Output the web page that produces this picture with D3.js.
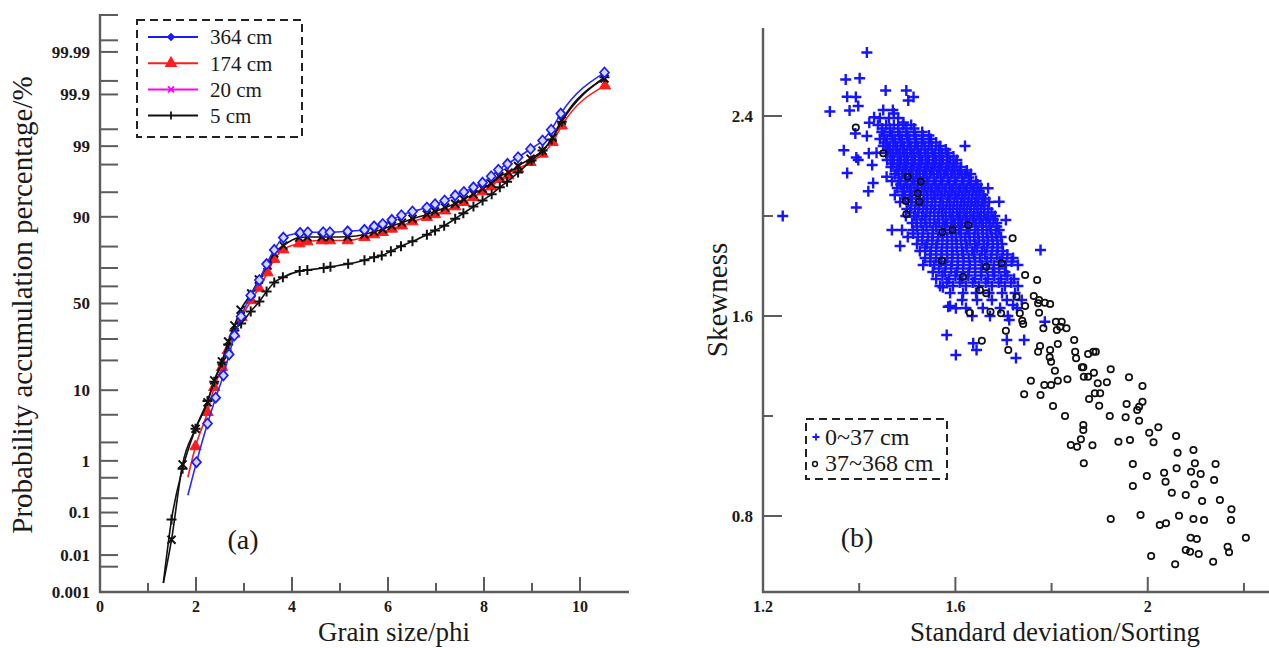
<!DOCTYPE html>
<html><head><meta charset="utf-8">
<script src="https://cdn.jsdelivr.net/npm/d3@7"></script>
<style>
body{margin:0;background:#fff;}
svg{display:block;}
text{font-family:"Liberation Serif","Times New Roman",serif;fill:#1a1a1a;}
</style></head><body>
<svg id="c" width="1269" height="648"></svg>
<script>
// ---------- (a) cumulative probability curves ----------
const phi364 = [1.83,2.01,2.24,2.41,2.57,2.69,2.80,2.94,3.14,3.32,3.47,3.63,3.82,4.17,4.33,4.65,4.79,5.16,5.51,5.71,5.89,6.08,6.28,6.51,6.81,6.98,7.18,7.40,7.58,7.78,7.97,8.15,8.30,8.49,8.71,8.97,9.22,9.40,9.60,10.51];
const pct364 = [0.23,0.95,3.8,8.2,14.4,22.6,31.8,42.4,54.7,63.6,72.0,78.6,83.5,85.2,85.4,85.4,85.4,85.7,86.2,87.3,88.0,89.2,90.4,91.3,92.2,92.9,93.6,94.5,95.05,95.7,96.3,97.0,97.6,98.05,98.47,98.88,99.20,99.49,99.75,99.968];
const phi174 = [1.83,1.99,2.24,2.38,2.54,2.66,2.80,2.95,3.15,3.31,3.49,3.63,3.82,4.15,4.32,4.62,4.79,5.16,5.51,5.71,5.89,6.08,6.29,6.51,6.81,6.98,7.19,7.40,7.58,7.78,7.97,8.15,8.32,8.51,8.71,8.97,9.22,9.43,9.62,10.52];
const pct174 = [0.51,1.73,5.4,10.8,17.3,24.4,32.7,42.0,51.8,59.1,67.6,74.4,78.7,81.2,82.0,82.4,82.4,82.4,83.6,84.6,85.4,86.5,87.5,88.7,89.9,90.6,91.5,92.4,93.27,94.2,95.1,95.8,96.7,97.07,97.67,98.16,98.65,99.14,99.57,99.936];
const phi20 = [1.32,1.49,1.72,1.99,2.24,2.38,2.54,2.67,2.80,2.93,3.15,3.31,3.49,3.63,3.82,4.15,4.32,4.62,4.79,5.16,5.51,5.71,5.89,6.08,6.29,6.51,6.81,6.98,7.19,7.40,7.58,7.78,7.97,8.15,8.32,8.51,8.71,8.97,9.22,9.43,9.62,10.51];
const pct20 = [0.0018,0.024,0.87,3.2,7.2,12.8,19.6,28.7,37.3,46.3,55.9,63.9,71.3,77.0,80.4,83.5,83.7,83.7,83.7,83.8,84.6,85.6,86.4,87.45,88.4,89.5,90.6,91.3,92.2,93.0,93.8,94.7,95.5,96.2,97.0,97.35,97.9,98.39,98.81,99.29,99.66,99.956];
const phi5 = [1.32,1.49,1.72,1.99,2.24,2.38,2.54,2.67,2.80,2.94,3.14,3.32,3.47,3.63,3.81,4.16,4.32,4.66,4.80,5.17,5.51,5.71,5.87,6.06,6.27,6.51,6.81,6.98,7.17,7.40,7.57,7.78,7.97,8.16,8.33,8.48,8.71,8.99,9.22,9.41,9.62,10.51];
const pct5 = [0.0018,0.070,0.73,3.2,7.5,12.4,19.2,27.2,34.5,38.4,45.3,51.2,57.0,62.2,65.1,68.4,69.0,70.0,70.6,72.1,73.9,75.3,76.1,78.0,80.1,82.1,84.5,86.0,87.5,89.5,90.9,92.4,93.6,94.7,95.7,96.4,97.35,98.27,98.81,99.23,99.64,99.959];
const seriesNames = ["364 cm","174 cm","20 cm","5 cm"];
const yTickPcts = [0.001,0.005,0.01,0.05,0.1,0.2,0.5,1,2,5,10,20,30,40,50,60,70,80,90,95,98,99,99.5,99.9,99.95,99.99,99.995,99.999];
const yLabelPcts = ["0.001","0.01","0.1","1","10","50","90","99","99.9","99.99"];
const xTicksA = [0,1,2,3,4,5,6,7,8,9,10];
const xLabelsA = [0,2,4,6,8,10];

// ---------- (b) scatter ----------
const xTicksB = [1.2,1.4,1.6,1.8,2.0,2.2];
const xLabelsB = [[1.2,"1.2"],[1.6,"1.6"],[2.0,"2"]];
const yTicksB = [0.8,1.2,1.6,2.0,2.4];
const yLabelsB = [[0.8,"0.8"],[1.6,"1.6"],[2.4,"2.4"]];
const shallowOutliers = [[1.416,2.654],[1.372,2.546],[1.401,2.551],[1.375,2.477],[1.393,2.476],[1.339,2.418],[1.380,2.422],[1.398,2.440],[1.455,2.502],[1.498,2.502],[1.502,2.462],[1.513,2.476],[1.472,2.410],[1.492,2.374],[1.421,2.373],[1.431,2.395],[1.392,2.330],[1.416,2.320],[1.368,2.263],[1.394,2.234],[1.398,2.224],[1.420,2.251],[1.436,2.253],[1.427,2.204],[1.375,2.172],[1.429,2.132],[1.419,2.099],[1.394,2.034],[1.457,2.157],[1.241,2.000],[1.620,2.280],[1.691,2.057],[1.668,2.111],[1.777,1.864],[1.705,1.984],[1.485,1.880],[1.582,1.524],[1.601,1.444],[1.637,1.491],[1.644,1.464],[1.707,1.504],[1.743,1.504],[1.712,1.584],[1.786,1.577],[1.601,1.631],[1.585,1.637],[1.726,1.432],[1.720,1.644],[1.574,1.715],[1.589,1.640]];
const shallowRows = [
 [2.424,[1.450,1.470]],
 [2.392,[1.443,1.462,1.481]],
 [2.364,[1.439,1.456,1.472,1.491,1.508]],
 [2.336,[1.447,1.464,1.481,1.497,1.514,1.531]],
 [2.308,[1.443,1.458,1.474,1.489,1.504,1.518,1.533,1.549]],
 [2.280,[1.450,1.464,1.479,1.493,1.508,1.522,1.537,1.551,1.568]],
 [2.252,[1.456,1.470,1.485,1.499,1.514,1.528,1.543,1.558,1.572,1.585]],
 [2.224,[1.458,1.472,1.487,1.501,1.516,1.531,1.545,1.560,1.574,1.589,1.603]],
 [2.196,[1.466,1.481,1.495,1.510,1.524,1.539,1.553,1.568,1.583,1.597,1.612]],
 [2.168,[1.474,1.489,1.504,1.518,1.533,1.547,1.562,1.576,1.591,1.605,1.620,1.632]],
 [2.140,[1.468,1.483,1.497,1.512,1.526,1.541,1.556,1.570,1.585,1.599,1.614,1.628,1.643]],
 [2.112,[1.479,1.493,1.508,1.522,1.537,1.551,1.566,1.580,1.595,1.610,1.624,1.639,1.653]],
 [2.084,[1.474,1.491,1.508,1.524,1.541,1.556,1.570,1.585,1.599,1.614,1.628,1.643,1.657]],
 [2.056,[1.485,1.501,1.518,1.535,1.551,1.568,1.583,1.597,1.612,1.626,1.641,1.655,1.670]],
 [2.028,[1.499,1.516,1.533,1.549,1.566,1.580,1.595,1.610,1.624,1.639,1.653,1.668]],
 [2.000,[1.497,1.514,1.531,1.547,1.564,1.580,1.595,1.610,1.624,1.639,1.653,1.668,1.682]],
 [1.972,[1.510,1.528,1.547,1.566,1.583,1.599,1.614,1.628,1.643,1.657,1.672,1.686]],
 [1.944,[1.468,1.489,1.512,1.533,1.553,1.572,1.591,1.607,1.624,1.641,1.657,1.674,1.691]],
 [1.916,[1.501,1.522,1.543,1.564,1.583,1.601,1.620,1.639,1.657,1.676,1.695]],
 [1.888,[1.520,1.541,1.562,1.583,1.603,1.622,1.641,1.659,1.678,1.697]],
 [1.860,[1.526,1.549,1.572,1.593,1.614,1.635,1.655,1.676,1.699]],
 [1.832,[1.537,1.560,1.583,1.605,1.628,1.651,1.674,1.697,1.720]],
 [1.804,[1.533,1.556,1.580,1.605,1.630,1.655,1.680,1.705,1.730]],
 [1.776,[1.553,1.578,1.603,1.628,1.653,1.678,1.703]],
 [1.748,[1.560,1.587,1.614,1.641,1.668,1.695,1.722]],
 [1.720,[1.568,1.595,1.622,1.649,1.676,1.703,1.730]],
 [1.692,[1.589,1.616,1.643,1.670,1.697,1.724]],
 [1.664,[1.614,1.645,1.676,1.707,1.738]],
 [1.632,[1.622,1.657,1.693,1.728]],
 [1.600,[1.635,1.672,1.709]]
];
const shallowCoreRows = [
 [2.350,[1.448,1.464,1.481,1.498,1.514]],
 [2.322,[1.452,1.468,1.484,1.500,1.516,1.532,1.545]],
 [2.294,[1.455,1.471,1.486,1.501,1.516,1.530,1.545,1.560]],
 [2.266,[1.460,1.476,1.491,1.506,1.521,1.536,1.551,1.566,1.580]],
 [2.238,[1.465,1.480,1.494,1.509,1.524,1.538,1.553,1.567,1.582,1.596]],
 [2.210,[1.470,1.485,1.499,1.514,1.528,1.543,1.558,1.572,1.587,1.602]],
 [2.182,[1.478,1.492,1.507,1.521,1.536,1.550,1.565,1.580,1.594,1.609,1.624]],
 [2.154,[1.482,1.497,1.511,1.526,1.540,1.555,1.570,1.584,1.599,1.614,1.628]],
 [2.126,[1.486,1.500,1.515,1.530,1.544,1.559,1.573,1.588,1.602,1.617,1.632,1.646]],
 [2.098,[1.490,1.505,1.520,1.534,1.549,1.563,1.578,1.592,1.607,1.621,1.636,1.650]],
 [2.070,[1.495,1.510,1.526,1.542,1.558,1.573,1.589,1.604,1.619,1.634,1.648,1.662]],
 [2.042,[1.508,1.525,1.541,1.558,1.574,1.589,1.604,1.618,1.632,1.646,1.660]],
 [2.014,[1.506,1.523,1.540,1.556,1.572,1.588,1.603,1.617,1.631,1.646,1.660,1.675]],
 [1.986,[1.519,1.537,1.556,1.574,1.591,1.606,1.621,1.636,1.650,1.664,1.679]],
 [1.958,[1.520,1.540,1.560,1.578,1.595,1.611,1.626,1.641,1.656,1.671,1.686]],
 [1.930,[1.512,1.532,1.553,1.574,1.593,1.611,1.629,1.647,1.665,1.684]],
 [1.902,[1.531,1.552,1.573,1.593,1.612,1.630,1.649,1.668,1.687]],
 [1.874,[1.537,1.560,1.582,1.603,1.624,1.645,1.666,1.688]],
 [1.846,[1.548,1.571,1.594,1.616,1.639,1.662,1.686,1.708]],
 [1.818,[1.548,1.570,1.593,1.617,1.641,1.666,1.692,1.717]],
 [1.790,[1.566,1.591,1.616,1.641,1.666,1.691]],
 [1.762,[1.573,1.600,1.627,1.654,1.681,1.708]],
 [1.734,[1.582,1.609,1.636,1.663,1.690,1.716]]
];
const deepPts = [[1.393,2.354],[1.450,2.251],[1.501,2.157],[1.528,2.138],[1.522,2.091],[1.497,2.060],[1.525,2.057],[1.498,2.007],[1.573,1.935],[1.594,1.944],[1.572,1.821],[1.627,1.964],[1.616,1.757],[1.719,1.911],[1.664,1.797],[1.696,1.811],[1.745,1.764],[1.770,1.744],[1.651,1.704],[1.664,1.691],[1.727,1.677],[1.763,1.680],[1.774,1.664],[1.786,1.653],[1.797,1.648],[1.630,1.613],[1.673,1.617],[1.695,1.611],[1.734,1.611],[1.745,1.640],[1.774,1.613],[1.809,1.577],[1.821,1.577],[1.705,1.541],[1.741,1.568],[1.783,1.551],[1.811,1.544],[1.818,1.557],[1.831,1.551],[1.655,1.501],[1.710,1.464],[1.776,1.480],[1.797,1.464],[1.813,1.488],[1.847,1.504],[1.849,1.457],[1.851,1.431],[1.796,1.435],[1.799,1.417],[1.876,1.448],[1.887,1.457],[1.892,1.457],[1.807,1.381],[1.863,1.395],[1.866,1.395],[1.888,1.373],[1.867,1.357],[1.876,1.357],[1.923,1.387],[1.961,1.355],[1.757,1.341],[1.785,1.324],[1.799,1.324],[1.813,1.341],[1.833,1.347],[1.896,1.331],[1.915,1.335],[1.989,1.320],[1.743,1.287],[1.777,1.284],[1.890,1.291],[1.901,1.291],[1.878,1.268],[1.899,1.241],[1.803,1.240],[1.828,1.200],[1.921,1.200],[1.954,1.195],[1.956,1.248],[1.978,1.224],[1.982,1.237],[1.989,1.257],[1.982,1.181],[1.866,1.164],[1.866,1.144],[1.861,1.107],[1.840,1.084],[1.853,1.077],[1.885,1.083],[1.867,1.011],[1.939,1.097],[1.963,1.104],[2.003,1.133],[2.012,1.095],[2.022,1.155],[2.059,1.120],[2.062,1.053],[2.095,1.064],[1.969,1.008],[1.998,0.960],[1.969,0.920],[2.034,0.973],[2.037,0.937],[2.060,0.991],[2.090,0.977],[2.098,1.011],[2.110,0.968],[2.097,0.927],[2.141,1.008],[2.138,0.944],[2.050,0.893],[2.079,0.884],[2.113,0.860],[2.150,0.864],[2.174,0.827],[2.173,0.784],[1.923,0.788],[1.985,0.804],[2.025,0.764],[2.038,0.771],[2.065,0.801],[2.095,0.788],[2.117,0.784],[2.089,0.713],[2.102,0.708],[2.204,0.713],[2.007,0.640],[2.057,0.607],[2.079,0.664],[2.088,0.657],[2.106,0.648],[2.136,0.617],[2.166,0.677],[2.169,0.655],[1.772,1.651],[1.739,1.581],[1.772,1.457]];
const groupNames = ["0~37 cm","37~368 cm"];

// ---------- helpers ----------
function qnorm(p){
 const a=[-3.969683028665376e+01,2.209460984245205e+02,-2.759285104469687e+02,1.383577518672690e+02,-3.066479806614716e+01,2.506628277459239e+00];
 const b=[-5.447609879822406e+01,1.615858368580409e+02,-1.556989798598866e+02,6.680131188771972e+01,-1.328068155288572e+01];
 const c=[-7.784894002430293e-03,-3.223964580411365e-01,-2.400758277161838e+00,-2.549671348234540e+00,4.374664141464968e+00,2.938163982698783e+00];
 const d=[7.784695709041462e-03,3.224671290700398e-01,2.445134137142996e+00,3.754408661907416e+00];
 const pl=0.02425,ph=1-pl;let q,r;
 if(p<pl){q=Math.sqrt(-2*Math.log(p));return (((((c[0]*q+c[1])*q+c[2])*q+c[3])*q+c[4])*q+c[5])/((((d[0]*q+d[1])*q+d[2])*q+d[3])*q+1);}
 if(p<=ph){q=p-0.5;r=q*q;return (((((a[0]*r+a[1])*r+a[2])*r+a[3])*r+a[4])*r+a[5])*q/(((((b[0]*r+b[1])*r+b[2])*r+b[3])*r+b[4])*r+1);}
 q=Math.sqrt(-2*Math.log(1-p));return -(((((c[0]*q+c[1])*q+c[2])*q+c[3])*q+c[4])*q+c[5])/((((d[0]*q+d[1])*q+d[2])*q+d[3])*q+1);
}
const svg=d3.select('#c');
const AX='#5c5c5c';

// ===== Panel (a) =====
const xA=d3.scaleLinear().domain([0,11]).range([100,628]);
const zA=d3.scaleLinear().domain([qnorm(1e-5),qnorm(1-1e-5)]).range([592,15]);
const yA=p=>zA(qnorm(p/100));
const gA=svg.append('g');
gA.append('line').attr('x1',100).attr('x2',100).attr('y1',14).attr('y2',593).attr('stroke',AX).attr('stroke-width',2.4);
gA.append('line').attr('x1',99).attr('x2',629).attr('y1',592).attr('y2',592).attr('stroke',AX).attr('stroke-width',2.4);
gA.selectAll('.yt').data(yTickPcts).join('line').attr('x1',100).attr('x2',118)
 .attr('y1',d=>yA(d)).attr('y2',d=>yA(d)).attr('stroke',AX).attr('stroke-width',2);
gA.selectAll('.yl').data(yLabelPcts).join('text').attr('x',90).attr('y',d=>yA(+d)).attr('dy','0.35em')
 .attr('text-anchor','end').attr('font-size',17).attr('font-weight','bold').text(d=>d);
gA.selectAll('.xt').data(xTicksA.filter(v=>v>0)).join('line').attr('x1',d=>xA(d)).attr('x2',d=>xA(d))
 .attr('y1',592).attr('y2',d=>592-(d%2===0?15:9)).attr('stroke',AX).attr('stroke-width',2);
gA.selectAll('.xl').data(xLabelsA).join('text').attr('x',d=>xA(d)).attr('y',612)
 .attr('text-anchor','middle').attr('font-size',16).attr('font-weight','bold').text(d=>d);
gA.append('text').attr('x',394).attr('y',641).attr('text-anchor','middle').attr('font-size',27).text('Grain size/phi');
gA.append('text').attr('transform','translate(32,305) rotate(-90)').attr('text-anchor','middle').attr('font-size',29)
 .text('Probability accumulation percentage/%');
gA.append('text').attr('x',243).attr('y',549).attr('text-anchor','middle').attr('font-size',28).text('(a)');

const lineA=d3.line().x(d=>xA(d[0])).y(d=>yA(d[1])).curve(d3.curveMonotoneX);
const zip=(a,b)=>a.map((v,i)=>[v,b[i]]);
const mk={
 diamond:'M0,-5L4.5,0L0,5L-4.5,0Z',
 tri:d3.symbol(d3.symbolTriangle,55)(),
 cross:'M-4,-4L4,4M-4,4L4,-4',
 plus:'M-5,0L5,0M0,-5L0,5'
};
const series=[
 {name:seriesNames[1],data:zip(phi174,pct174),col:'#ff1c1c',lineCol:'#ff1c1c',m:'tri',fill:'#ff1c1c',sw:1},
 {name:seriesNames[2],data:zip(phi20,pct20),col:'#111',lineCol:'#111',m:'cross',fill:'none',sw:2},
 {name:seriesNames[3],data:zip(phi5,pct5),col:'#111',lineCol:'#111',m:'plus',fill:'none',sw:2},
 {name:seriesNames[0],data:zip(phi364,pct364),col:'#1a1aff',lineCol:'#2a2aff',m:'diamond',fill:'#d4d7ff',sw:1.7}
];
series.forEach(s=>{
 gA.append('path').attr('d',lineA(s.data)).attr('fill','none').attr('stroke',s.lineCol).attr('stroke-width',1.6);
 gA.selectAll(null).data(s.data.slice(1)).join('path').attr('d',mk[s.m])
  .attr('transform',d=>`translate(${xA(d[0])},${yA(d[1])})`)
  .attr('fill',s.fill).attr('stroke',s.col).attr('stroke-width',s.sw);
});
// legend (a)
const legA=svg.append('g');
legA.append('rect').attr('x',137).attr('y',20).attr('width',165).attr('height',117).attr('fill','#fff')
 .attr('stroke','#222').attr('stroke-width',2).attr('stroke-dasharray','8,5');
const legItems=[
 {t:seriesNames[0],c:'#1a1aff',m:'M0,-3L3,0L0,3L-3,0Z',f:'#1a1aff'},
 {t:seriesNames[1],c:'#ff1c1c',m:d3.symbol(d3.symbolTriangle,40)(),f:'#ff1c1c'},
 {t:seriesNames[2],c:'#ff00ff',m:'M-3,-3L3,3M-3,3L3,-3',f:'none'},
 {t:seriesNames[3],c:'#111',m:'M0,-4L0,4',f:'none'}
];
legItems.forEach((it,i)=>{
 const y=37+i*26.2;
 legA.append('line').attr('x1',148).attr('x2',198).attr('y1',y).attr('y2',y).attr('stroke',it.c).attr('stroke-width',2);
 legA.append('path').attr('d',it.m).attr('transform',`translate(171,${y})`).attr('fill',it.f).attr('stroke',it.c).attr('stroke-width',1.8);
 legA.append('text').attr('x',210).attr('y',y).attr('dy','0.35em').attr('font-size',21).text(it.t);
});

// ===== Panel (b) =====
const xB=d3.scaleLinear().domain([1.2,2.25]).range([763,1268]);
const yB=d3.scaleLinear().domain([0.5,2.75]).range([591,28.5]);
const gB=svg.append('g');
gB.append('line').attr('x1',763).attr('x2',763).attr('y1',28).attr('y2',593).attr('stroke',AX).attr('stroke-width',2.4);
gB.append('line').attr('x1',762).attr('x2',1269).attr('y1',592).attr('y2',592).attr('stroke',AX).attr('stroke-width',2.4);
gB.selectAll('.yt').data(yTicksB).join('line').attr('x1',763).attr('x2',d=>763+(yLabelsB.some(l=>l[0]===d)?19:10))
 .attr('y1',d=>yB(d)).attr('y2',d=>yB(d)).attr('stroke',AX).attr('stroke-width',2);
gB.selectAll('.yl').data(yLabelsB).join('text').attr('x',753).attr('y',d=>yB(d[0])).attr('dy','0.35em')
 .attr('text-anchor','end').attr('font-size',17).attr('font-weight','bold').text(d=>d[1]);
gB.selectAll('.xt').data(xTicksB.slice(1)).join('line').attr('x1',d=>xB(d)).attr('x2',d=>xB(d))
 .attr('y1',592).attr('y2',d=>592-(xLabelsB.some(l=>Math.abs(l[0]-d)<1e-9)?15:9)).attr('stroke',AX).attr('stroke-width',2);
gB.selectAll('.xl').data(xLabelsB).join('text').attr('x',d=>xB(d[0])).attr('y',612)
 .attr('text-anchor','middle').attr('font-size',16).attr('font-weight','bold').text(d=>d[1]);
gB.append('text').attr('x',1055).attr('y',641).attr('text-anchor','middle').attr('font-size',27).text('Standard deviation/Sorting');
gB.append('text').attr('transform','translate(727,300) rotate(-90)').attr('text-anchor','middle').attr('font-size',29).text('Skewness');
gB.append('text').attr('x',857).attr('y',547).attr('text-anchor','middle').attr('font-size',28).text('(b)');

const rowsToPts=rows=>[].concat(...rows.map(r=>r[1].map(sd=>[sd,r[0]])));
const shallow=shallowOutliers.concat(rowsToPts(shallowRows),rowsToPts(shallowCoreRows));
gB.selectAll('.sp').data(shallow).join('path').attr('d','M-5.5,0L5.5,0M0,-5.5L0,5.5')
 .attr('transform',d=>`translate(${xB(d[0])},${yB(d[1])})`).attr('stroke','#1414ff').attr('stroke-width',2.4).attr('fill','none');
gB.selectAll('.dp').data(deepPts).join('circle').attr('cx',d=>xB(d[0])).attr('cy',d=>yB(d[1])).attr('r',3.2)
 .attr('fill','none').attr('stroke','#111').attr('stroke-width',1.7);
// legend (b)
const legB=svg.append('g');
legB.append('rect').attr('x',806).attr('y',419).attr('width',141).attr('height',60).attr('fill','#fff')
 .attr('stroke','#222').attr('stroke-width',2).attr('stroke-dasharray','8,5');
legB.append('path').attr('d','M-3.5,0L3.5,0M0,-3.5L0,3.5').attr('transform','translate(816,437)').attr('stroke','#1414ff').attr('stroke-width',1.8);
legB.append('text').attr('x',825).attr('y',437).attr('dy','0.35em').attr('font-size',24).text(groupNames[0]);
legB.append('circle').attr('cx',815).attr('cy',464).attr('r',2.4).attr('fill','none').attr('stroke','#111').attr('stroke-width',1.5);
legB.append('text').attr('x',825).attr('y',463).attr('dy','0.35em').attr('font-size',24).text(groupNames[1]);
</script>
</body></html>
